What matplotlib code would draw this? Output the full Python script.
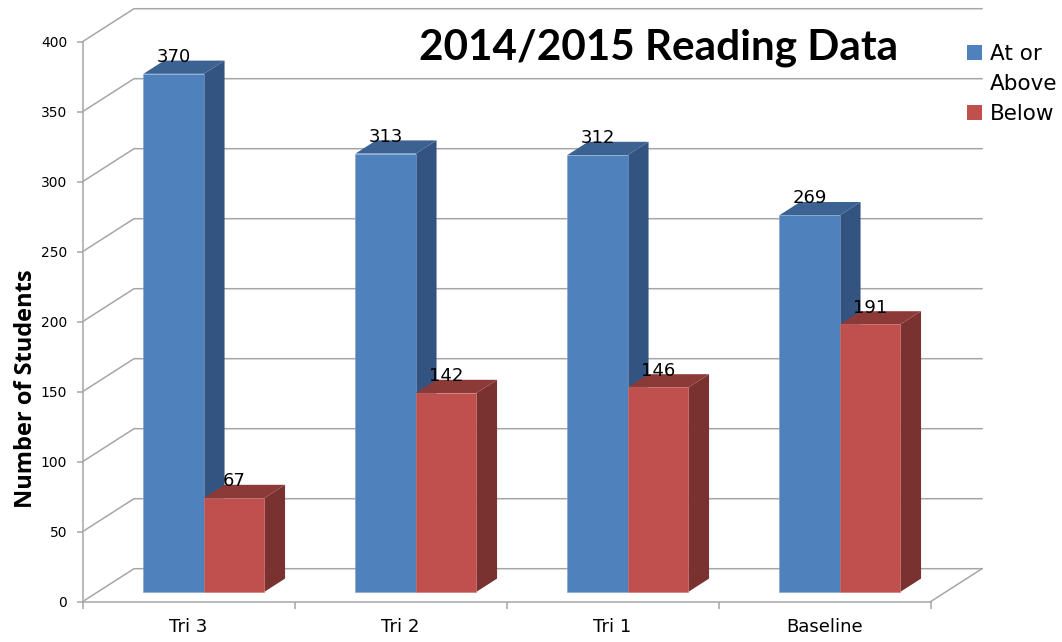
import numpy as np
import matplotlib
matplotlib.use("Agg")
import matplotlib.pyplot as plt
from matplotlib.patches import Patch

# data
categories = ["Tri 3", "Tri 2", "Tri 1", "Baseline"]
at_or_above = [370, 313, 312, 269]
below = [67, 142, 146, 191]
y_ticks = [0, 50, 100, 150, 200, 250, 300, 350, 400]

# 3d look, in data units (1 category = 212px, 1 student = 1.4px)
depth_x = 51.5 / 212
depth_y = 33 / 1.4
bar_w = 60.5 / 212
bar_dx = 0.3 * depth_x
bar_dy = 0.3 * depth_y
side_x = 0.4 * depth_x
side_y = 0.4 * depth_y

grid_col = "#A6A6A6"

fig = plt.figure(figsize=(10.62, 6.42), dpi=100)
ax = fig.add_axes([82.5 / 1062, (642 - 601.7) / 642, 848 / 1062, 560 / 642])
ax.set_xlim(0, 4)
ax.set_ylim(0, 400)

# back wall and floor
for v in y_ticks:
    ax.plot([0, depth_x, 4 + depth_x], [v, v + depth_y, v + depth_y],
            color=grid_col, lw=1.1, clip_on=False, zorder=1)
ax.plot([4, 4 + depth_x], [0, depth_y], color=grid_col, lw=1.1, clip_on=False, zorder=1)


def draw_bar(x, val, front, side, top, edge, z):
    b = bar_dy
    ax.bar(x, val, bar_w, bottom=b, align="edge", color=front, edgecolor=edge,
           linewidth=0.4, clip_on=False, zorder=z + 0.2)
    # right side
    ax.fill([x + bar_w, x + bar_w + side_x, x + bar_w + side_x, x + bar_w],
            [b, b + side_y, b + val + side_y, b + val],
            color=side, lw=0, clip_on=False, zorder=z)
    # top
    ax.fill([x, x + side_x, x + bar_w + side_x, x + bar_w],
            [b + val, b + val + side_y, b + val + side_y, b + val],
            color=top, lw=0, clip_on=False, zorder=z + 0.1)


for i in range(len(categories)):
    x_mid = i + 0.5 + bar_dx
    draw_bar(x_mid - bar_w, at_or_above[i], "#4F81BD", "#335380", "#3C6291", "#7FA3D0", 2 + i)
    draw_bar(x_mid, below[i], "#C0504D", "#7A3230", "#8C3A38", "#C9706D", 2.5 + i)

# value labels
for i in range(len(categories)):
    x_mid = i + 0.5 + bar_dx
    ax.text(x_mid - bar_w / 2, at_or_above[i] + bar_dy + 12, str(at_or_above[i]),
            ha="center", va="center", fontsize=13, color="black", zorder=10)
    ax.text(x_mid + bar_w / 2, below[i] + bar_dy + 12, str(below[i]),
            ha="center", va="center", fontsize=13, color="black", zorder=10)

# axes
for s in ["top", "right"]:
    ax.spines[s].set_visible(False)
for s in ["left", "bottom"]:
    ax.spines[s].set_color(grid_col)
    ax.spines[s].set_linewidth(1.1)
ax.set_yticks(y_ticks)
ax.tick_params(axis="y", length=4, width=1.1, color=grid_col, labelsize=10, pad=7)
ax.set_xticks(range(5))
ax.set_xticklabels([])
ax.tick_params(axis="x", which="major", length=5, width=1.1, color=grid_col)
ax.set_xticks(np.arange(4) + 0.5, categories, minor=True)
ax.tick_params(axis="x", which="minor", length=0, labelsize=13, pad=12)

ax.set_ylabel("Number of Students", fontsize=17, fontweight="bold", family="Open Sans")
ax.yaxis.set_label_coords(-0.053, 0.38)

fig.text(659 / 1062, 1 - 47.5 / 642, "2014/2015 Reading Data", fontsize=30.4, fontweight="bold",
         family="Lato", ha="center", va="center")

handles = [Patch(facecolor="#4F81BD", label="At or"),
           Patch(facecolor="none", edgecolor="none", label="Above"),
           Patch(facecolor="#C0504D", label="Below")]
ax.legend(handles=handles, loc="upper left", bbox_to_anchor=(967 / 1062, 1 - 44 / 642),
          bbox_transform=fig.transFigure, frameon=False, fontsize=15.5, handlelength=0.7,
          handleheight=0.7, handletextpad=0.38, labelspacing=0.47, borderpad=0, borderaxespad=0)

fig.savefig("out.png", dpi=100)
